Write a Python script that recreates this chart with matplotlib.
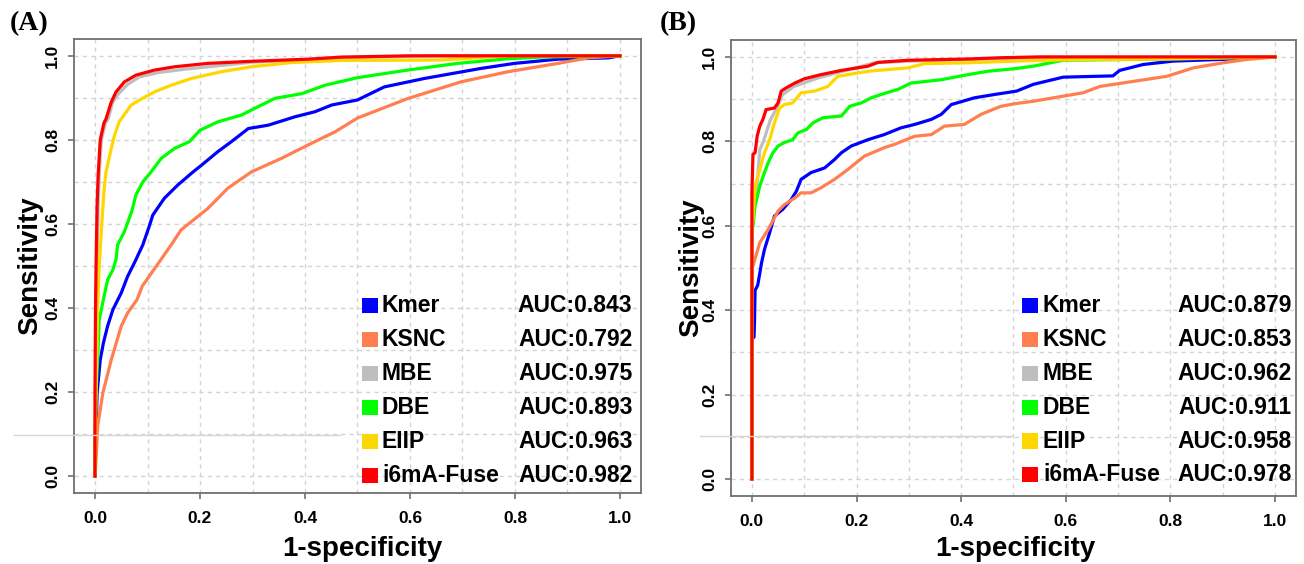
import matplotlib
matplotlib.use("Agg")
import matplotlib.pyplot as plt
from matplotlib.patches import Rectangle
from matplotlib.lines import Line2D
import numpy as np

methods = ["Kmer", "KSNC", "MBE", "DBE", "EIIP", "i6mA-Fuse"]
colors = ["#0000FF", "#FF7F50", "#BEBEBE", "#00FF00", "#FFD700", "#FF0000"]
auc_a = ["0.843", "0.792", "0.975", "0.893", "0.963", "0.982"]
auc_b = ["0.879", "0.853", "0.962", "0.911", "0.958", "0.978"]

# ---- panel A curves (1-specificity, sensitivity)
kmer_a_x = [0, 0.001, 0.002, 0.004, 0.01, 0.016, 0.024, 0.034, 0.05, 0.062, 0.076, 0.091, 0.104, 0.11, 0.132, 0.158,
            0.187, 0.203, 0.234, 0.26, 0.292, 0.33, 0.381, 0.419, 0.451, 0.5, 0.551, 0.627, 0.735, 0.799, 0.882, 0.977, 1]
kmer_a_y = [0, 0.05, 0.1, 0.198, 0.277, 0.317, 0.357, 0.396, 0.436, 0.475, 0.51, 0.55, 0.597, 0.621, 0.661, 0.693,
            0.724, 0.74, 0.772, 0.796, 0.827, 0.835, 0.855, 0.867, 0.883, 0.895, 0.926, 0.946, 0.97, 0.982, 0.992, 0.995, 1]
ksnc_a_x = [0, 0.002, 0.005, 0.015, 0.031, 0.05, 0.062, 0.08, 0.09, 0.117, 0.145, 0.164, 0.215, 0.253, 0.298, 0.355,
            0.406, 0.457, 0.5, 0.595, 0.697, 0.786, 0.882, 0.939, 1]
ksnc_a_y = [0, 0.039, 0.119, 0.198, 0.277, 0.357, 0.388, 0.42, 0.452, 0.5, 0.55, 0.586, 0.637, 0.685, 0.724, 0.756,
            0.788, 0.819, 0.852, 0.898, 0.938, 0.962, 0.982, 0.995, 1]
mbe_a_x = [0, 0.001, 0.002, 0.004, 0.006, 0.008, 0.012, 0.02, 0.025, 0.034, 0.045, 0.062, 0.085, 0.12, 0.17, 0.24,
           0.30, 0.41, 0.5, 0.65, 1]
mbe_a_y = [0, 0.2, 0.4, 0.5, 0.645, 0.716, 0.80, 0.84, 0.85, 0.89, 0.91, 0.932, 0.95, 0.96, 0.968, 0.977, 0.985,
           0.991, 0.996, 1, 1]
dbe_a_x = [0, 0.0, 0.002, 0.005, 0.008, 0.016, 0.024, 0.034, 0.04, 0.043, 0.056, 0.07, 0.078, 0.091, 0.107, 0.126,
           0.152, 0.18, 0.2, 0.234, 0.279, 0.304, 0.343, 0.394, 0.438, 0.5, 0.595, 0.691, 0.786, 0.85, 1]
dbe_a_y = [0, 0.1, 0.198, 0.277, 0.372, 0.42, 0.467, 0.491, 0.515, 0.55, 0.582, 0.63, 0.669, 0.70, 0.724, 0.756,
           0.78, 0.796, 0.823, 0.843, 0.859, 0.875, 0.899, 0.91, 0.93, 0.948, 0.966, 0.982, 0.993, 0.997, 1]
eiip_a_x = [0, 0.002, 0.005, 0.008, 0.013, 0.017, 0.021, 0.031, 0.037, 0.046, 0.069, 0.085, 0.113, 0.145, 0.183,
            0.24, 0.298, 0.375, 0.47, 0.66, 0.79, 1]
eiip_a_y = [0, 0.2, 0.4, 0.5, 0.6, 0.677, 0.724, 0.78, 0.81, 0.843, 0.883, 0.895, 0.914, 0.93, 0.946, 0.962, 0.974,
            0.984, 0.989, 0.99, 1, 1]
fuse_a_x = [0, 0.0, 0.001, 0.002, 0.004, 0.006, 0.01, 0.017, 0.021, 0.031, 0.04, 0.056, 0.078, 0.113, 0.152, 0.215,
            0.298, 0.406, 0.47, 0.6, 1]
fuse_a_y = [0, 0.2, 0.4, 0.5, 0.645, 0.716, 0.80, 0.84, 0.85, 0.89, 0.914, 0.938, 0.954, 0.966, 0.974, 0.982, 0.987,
            0.992, 0.997, 1, 1]

# ---- panel B curves
kmer_b_x = [0, 0, 0.004, 0.005, 0.006, 0.011, 0.015, 0.018, 0.024, 0.034, 0.043, 0.059, 0.075, 0.085, 0.094, 0.113,
            0.139, 0.158, 0.171, 0.19, 0.222, 0.253, 0.285, 0.311, 0.343, 0.362, 0.381, 0.425, 0.464, 0.506, 0.538,
            0.595, 0.69, 0.703, 0.748, 0.805, 0.92, 0.984, 1]
kmer_b_y = [0, 0.33, 0.337, 0.376, 0.447, 0.459, 0.487, 0.51, 0.544, 0.584, 0.623, 0.639, 0.662, 0.682, 0.71, 0.726,
            0.737, 0.757, 0.773, 0.789, 0.804, 0.816, 0.832, 0.84, 0.852, 0.864, 0.887, 0.903, 0.911, 0.919, 0.935,
            0.952, 0.955, 0.968, 0.982, 0.99, 0.995, 1.0, 1]
ksnc_b_x = [0, 0, 0.002, 0.015, 0.031, 0.05, 0.062, 0.082, 0.094, 0.113, 0.132, 0.158, 0.183, 0.215, 0.253, 0.273,
            0.311, 0.343, 0.368, 0.406, 0.438, 0.476, 0.502, 0.538, 0.633, 0.665, 0.793, 0.844, 0.901, 0.946, 0.984, 1]
ksnc_b_y = [0, 0.5, 0.505, 0.56, 0.591, 0.635, 0.65, 0.666, 0.678, 0.678, 0.69, 0.71, 0.733, 0.765, 0.785, 0.793,
            0.812, 0.816, 0.836, 0.84, 0.864, 0.883, 0.889, 0.895, 0.915, 0.93, 0.954, 0.974, 0.986, 0.994, 0.998, 1]
mbe_b_x = [0, 0, 0.005, 0.01, 0.015, 0.022, 0.035, 0.048, 0.058, 0.08, 0.126, 0.234, 0.3, 0.45, 0.55, 1]
mbe_b_y = [0, 0.6, 0.647, 0.7, 0.78, 0.8, 0.85, 0.88, 0.91, 0.93, 0.95, 0.986, 0.99, 0.995, 0.998, 1]
dbe_b_x = [0, 0, 0.002, 0.006, 0.015, 0.024, 0.031, 0.04, 0.05, 0.062, 0.078, 0.088, 0.104, 0.117, 0.136, 0.171,
           0.187, 0.209, 0.228, 0.247, 0.279, 0.304, 0.362, 0.413, 0.451, 0.502, 0.538, 0.595, 0.8, 1]
dbe_b_y = [0, 0.59, 0.6, 0.647, 0.694, 0.726, 0.749, 0.773, 0.789, 0.797, 0.804, 0.82, 0.828, 0.844, 0.856, 0.86,
           0.883, 0.891, 0.903, 0.911, 0.923, 0.938, 0.946, 0.958, 0.966, 0.972, 0.978, 0.992, 0.995, 1]
eiip_b_x = [0, 0, 0.002, 0.006, 0.015, 0.024, 0.034, 0.043, 0.053, 0.062, 0.078, 0.094, 0.12, 0.145, 0.164, 0.222,
            0.298, 0.33, 0.413, 0.502, 0.595, 0.793, 1]
eiip_b_y = [0, 0.6, 0.615, 0.694, 0.733, 0.773, 0.804, 0.844, 0.879, 0.887, 0.891, 0.915, 0.919, 0.93, 0.954, 0.966,
            0.974, 0.984, 0.986, 0.99, 0.993, 0.995, 1]
fuse_b_x = [0, 0, 0.002, 0.006, 0.01, 0.015, 0.021, 0.027, 0.043, 0.05, 0.056, 0.066, 0.082, 0.10, 0.132, 0.171,
            0.222, 0.241, 0.298, 0.413, 0.476, 0.55, 1]
fuse_b_y = [0, 0.68, 0.769, 0.773, 0.812, 0.836, 0.852, 0.875, 0.879, 0.891, 0.919, 0.927, 0.938, 0.948, 0.958,
            0.968, 0.978, 0.987, 0.992, 0.995, 0.998, 1.0, 1]

curves_a = [(kmer_a_x, kmer_a_y), (ksnc_a_x, ksnc_a_y), (mbe_a_x, mbe_a_y),
            (dbe_a_x, dbe_a_y), (eiip_a_x, eiip_a_y), (fuse_a_x, fuse_a_y)]
curves_b = [(kmer_b_x, kmer_b_y), (ksnc_b_x, ksnc_b_y), (mbe_b_x, mbe_b_y),
            (dbe_b_x, dbe_b_y), (eiip_b_x, eiip_b_y), (fuse_b_x, fuse_b_y)]

plt.rcParams['font.family'] = ['Liberation Sans', 'DejaVu Sans']
plt.rcParams['font.weight'] = 'bold'

W, H = 1304, 564
fig = plt.figure(figsize=(W / 100, H / 100), dpi=100)


def px_rect(l, t, r, b):
    return [l / W, 1 - b / H, (r - l) / W, (b - t) / H]


def draw_panel(rect, curves, aucs, leg):
    ax = fig.add_axes(rect)
    for (x, y), c in zip(curves, colors):
        ax.plot(x, y, color=c, lw=2.3, solid_joinstyle='miter')
    ax.set_xlim(-0.04, 1.04)
    ax.set_ylim(-0.04, 1.04)
    ax.set_xticks(np.arange(0, 1.01, 0.2))
    ax.set_yticks(np.arange(0, 1.01, 0.2))
    ax.set_xticks(np.arange(0, 1.01, 0.1), minor=True)
    ax.set_yticks(np.arange(0, 1.01, 0.1), minor=True)
    ax.set_xticklabels([f"{v:.1f}" for v in np.arange(0, 1.01, 0.2)])
    ax.set_yticklabels([f"{v:.1f}" for v in np.arange(0, 1.01, 0.2)], rotation=90, va='center')
    ax.grid(True, which='both', color='#d4d4d4', linestyle=(0, (3, 3)), lw=1)
    ax.set_axisbelow(True)
    ax.tick_params(which='minor', length=0)
    ax.tick_params(which='major', length=4, width=1.2, color='#707070', labelsize=12.5, pad=9)
    ax.tick_params(axis='y', which='major', pad=6)
    ax.tick_params(axis='y', which='minor', left=False)
    ax.tick_params(axis='x', which='minor', bottom=False)
    for s in ax.spines.values():
        s.set_color('#707070')
        s.set_linewidth(1.3)
    sx, tx, rx, y0, dy = leg
    for i, (m, c, a) in enumerate(zip(methods, colors, aucs)):
        yy = y0 - i * dy
        ax.add_patch(Rectangle((sx - 0.014, yy - 0.0165), 0.028, 0.033, transform=ax.transAxes,
                               facecolor=c, edgecolor='none', zorder=5))
        ax.text(tx, yy, m, transform=ax.transAxes, ha='left', va='center', fontsize=16.5,
                fontweight='bold', zorder=5)
        ax.text(rx, yy, "AUC:" + a, transform=ax.transAxes, ha='right', va='center', fontsize=16.5,
                fontweight='bold', zorder=5)
    return ax


draw_panel(px_rect(74, 39, 641, 493), curves_a, auc_a, (0.522, 0.543, 0.985, 0.412, 0.0749))
draw_panel(px_rect(731, 40, 1296, 496), curves_b, auc_b, (0.529, 0.552, 0.993, 0.417, 0.0741))

# axis titles
for xc, yc in [(30, 266), (691, 268)]:
    fig.text(xc / W, 1 - yc / H, "Sensitivity", rotation=90, ha='center', va='center',
             fontsize=20, fontweight='bold')
for xc in [362, 1015]:
    fig.text(xc / W, 1 - 549 / H, "1-specificity", ha='center', va='center',
             fontsize=20, fontweight='bold')

# panel letters
fig.text(10 / W, 1 - 24 / H, "(A)", ha='left', va='center', fontsize=20, fontweight='bold',
         family='Liberation Serif')
fig.text(660 / W, 1 - 24 / H, "(B)", ha='left', va='center', fontsize=20, fontweight='bold',
         family='Liberation Serif')

# faint stray line seen in the source image
for x0, x1, yy in [(14, 340, 435), (700, 1012, 436)]:
    fig.add_artist(Line2D([x0 / W, x1 / W], [1 - yy / H, 1 - yy / H], color='#d6d6d6', lw=1,
                          transform=fig.transFigure))

fig.savefig("out.png", dpi=100, facecolor='white')
